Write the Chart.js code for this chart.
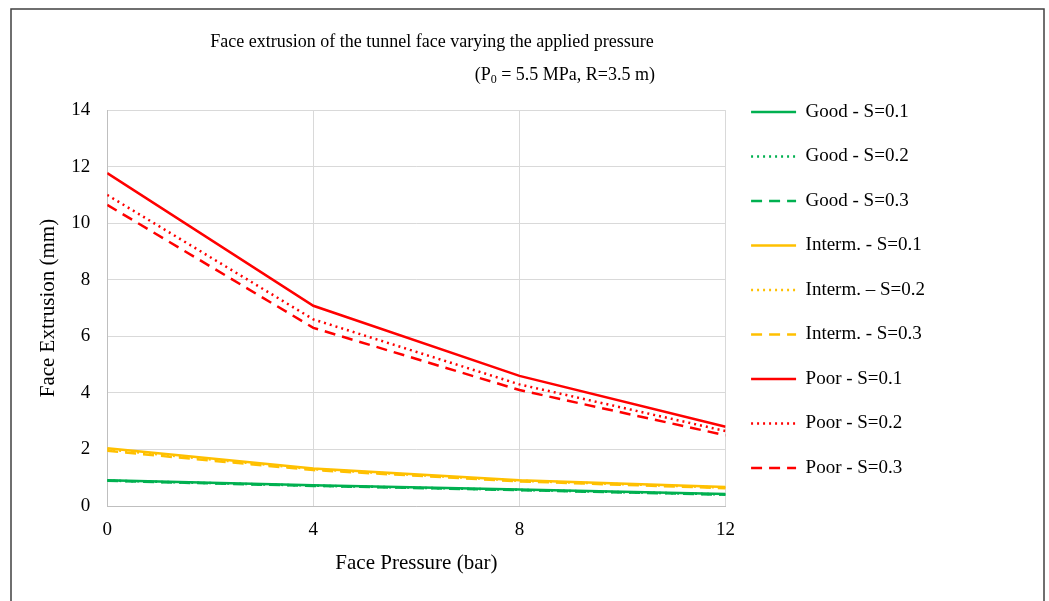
<!DOCTYPE html>
<html>
<head>
<meta charset="utf-8">
<script src="https://cdn.jsdelivr.net/npm/chart.js@4.4.1/dist/chart.umd.min.js"></script>
<style>
  html, body { margin: 0; padding: 0; background: #fff; }
  #wrap { width: 1049px; height: 601px; }
</style>
</head>
<body>
<div id="wrap"><canvas id="chart" width="1049" height="601"></canvas></div>
<script>
// face pressure (bar)
const pressure = [0, 4, 8, 12];
const yTicks = [0, 2, 4, 6, 8, 10, 12, 14];

// face extrusion (mm)
const goodS01 = [0.91, 0.73, 0.58, 0.42];
const goodS02 = [0.90, 0.72, 0.57, 0.41];
const goodS03 = [0.89, 0.71, 0.56, 0.40];
const intermS01 = [2.04, 1.33, 0.91, 0.67];
const intermS02 = [2.00, 1.30, 0.89, 0.65];
const intermS03 = [1.95, 1.27, 0.87, 0.63];
const poorS01 = [11.77, 7.08, 4.6, 2.8];
const poorS02 = [11.0, 6.6, 4.3, 2.65];
const poorS03 = [10.65, 6.3, 4.1, 2.5];

const GREEN = '#00b050', ORANGE = '#ffc000', RED = '#ff0000';
const SERIF = '"Liberation Serif", "Times New Roman", serif';
const DOT = [2, 4], DASH = [11, 7];

function series(label, values, color, dash) {
  return {
    label: label,
    data: values.map((v, i) => ({x: pressure[i], y: v})),
    borderColor: color,
    backgroundColor: color,
    borderWidth: 2.5,
    borderDash: dash,
    pointRadius: 0,
    pointHoverRadius: 0,
    pointStyle: 'line',
    tension: 0,
    fill: false
  };
}

// frame around the whole chart + white background
const framePlugin = {
  id: 'frame',
  beforeDraw(chart) {
    const ctx = chart.ctx;
    ctx.save();
    ctx.fillStyle = '#fff';
    ctx.fillRect(0, 0, chart.width, chart.height);
    ctx.strokeStyle = '#404040';
    ctx.lineWidth = 1.5;
    ctx.strokeRect(11, 9, 1033, 600);
    ctx.restore();
  }
};

// two-line title, second line has P with subscript 0
const titlePlugin = {
  id: 'twoLineTitle',
  afterDraw(chart) {
    const ctx = chart.ctx;
    ctx.save();
    ctx.fillStyle = '#000';
    ctx.textBaseline = 'middle';
    ctx.font = '18px ' + SERIF;
    ctx.textAlign = 'center';
    ctx.fillText('Face extrusion of the tunnel face varying the applied pressure', 432, 42);

    const a = '(P', sub = '0', b = ' = 5.5 MPa, R=3.5 m)';
    ctx.textAlign = 'left';
    const wa = ctx.measureText(a).width, wb = ctx.measureText(b).width;
    ctx.font = '12px ' + SERIF;
    const ws = ctx.measureText(sub).width;
    let x = 655 - (wa + ws + wb);
    ctx.font = '18px ' + SERIF;
    ctx.fillText(a, x, 75);
    x += wa;
    ctx.font = '12px ' + SERIF;
    ctx.fillText(sub, x, 80);
    x += ws;
    ctx.font = '18px ' + SERIF;
    ctx.fillText(b, x, 75);
    ctx.restore();
  }
};

// legend samples drawn as lines with the dataset's dash pattern
function legendLabels(chart) {
  const items = Chart.defaults.plugins.legend.labels.generateLabels(chart);
  items.forEach(item => {
    const ds = chart.data.datasets[item.datasetIndex];
    item.lineDash = ds.borderDash;
    item.lineWidth = ds.borderWidth;
    item.strokeStyle = ds.borderColor;
    item.pointStyle = 'line';
  });
  return items;
}

new Chart(document.getElementById('chart'), {
  type: 'line',
  data: {
    datasets: [
      series('Good - S=0.1', goodS01, GREEN, []),
      series('Good - S=0.2', goodS02, GREEN, DOT),
      series('Good - S=0.3', goodS03, GREEN, DASH),
      series('Interm. - S=0.1', intermS01, ORANGE, []),
      series('Interm. \u2013 S=0.2', intermS02, ORANGE, DOT),
      series('Interm. - S=0.3', intermS03, ORANGE, DASH),
      series('Poor - S=0.1', poorS01, RED, []),
      series('Poor - S=0.2', poorS02, RED, DOT),
      series('Poor - S=0.3', poorS03, RED, DASH)
    ]
  },
  options: {
    responsive: false,
    animation: false,
    layout: { padding: { top: 4, left: 14, right: 114, bottom: 25 } },
    plugins: {
      title: { display: true, text: '', font: { size: 18 }, padding: { top: 50, bottom: 34.5 } },
      tooltip: { enabled: false },
      legend: {
        position: 'right',
        align: 'center',
        labels: {
          usePointStyle: true,
          pointStyleWidth: 45,
          padding: 25.5,
          color: '#000',
          font: { family: SERIF, size: 19 },
          generateLabels: legendLabels
        }
      }
    },
    scales: {
      x: {
        type: 'linear',
        min: 0,
        max: 12,
        afterBuildTicks(axis) { axis.ticks = pressure.map(v => ({value: v})); },
        grid: { color: '#d9d9d9', drawTicks: false },
        border: { color: '#bfbfbf' },
        ticks: { padding: 13, color: '#000', font: { family: SERIF, size: 19 } },
        title: { display: true, text: 'Face Pressure (bar)', color: '#000', font: { family: SERIF, size: 21 }, padding: { top: -4, bottom: 0 } }
      },
      y: {
        min: 0,
        max: 14,
        afterBuildTicks(axis) { axis.ticks = yTicks.map(v => ({value: v})); },
        grid: { color: '#d9d9d9', drawTicks: false },
        border: { color: '#bfbfbf' },
        ticks: { padding: 17, color: '#000', font: { family: SERIF, size: 19 } },
        title: { display: true, text: 'Face Extrusion (mm)', color: '#000', font: { family: SERIF, size: 21 }, padding: { top: 22, bottom: -7 } }
      }
    }
  },
  plugins: [framePlugin, titlePlugin]
});
</script>
</body>
</html>
